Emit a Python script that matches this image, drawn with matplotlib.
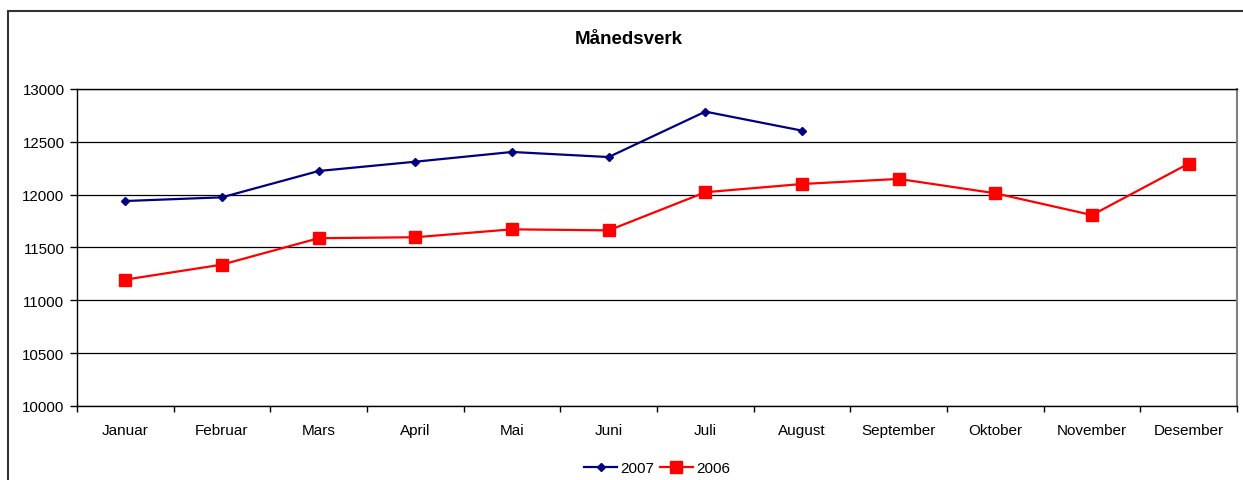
import matplotlib.pyplot as plt
from matplotlib.patches import Rectangle

plt.rcParams['font.family'] = ['Liberation Sans', 'DejaVu Sans']

maaneder = ['Januar', 'Februar', 'Mars', 'April', 'Mai', 'Juni', 'Juli',
            'August', 'September', 'Oktober', 'November', 'Desember']
verk_2007 = [11940, 11975, 12224, 12312, 12404, 12356, 12786, 12606]
verk_2006 = [11196, 11338, 11588, 11597, 11672, 11662, 12023, 12101,
             12149, 12013, 11807, 12294]

fig = plt.figure(figsize=(12.43, 4.81), dpi=100)
ax = fig.add_axes([77 / 1243, 74 / 481, 1160 / 1243, 317 / 481])

# ramme rundt hele diagrammet (Excel-stil)
fig.add_artist(Rectangle((8 / 1243, -0.05), 1.1, (481 - 12) / 481 + 0.05,
                         transform=fig.transFigure, fill=False,
                         edgecolor='#333333', linewidth=1.5))

x07 = list(range(len(verk_2007)))
x06 = list(range(len(verk_2006)))
ax.plot(x07, verk_2007, color='#000080', marker='D', markersize=4.5,
        linewidth=1.6, label='2007', zorder=3)
ax.plot(x06, verk_2006, color='#ff0000', marker='s', markersize=8.5,
        linewidth=1.6, label='2006', zorder=3)

ax.set_xlim(-0.5, 11.5)
ax.set_ylim(10000, 13000)
ax.set_yticks(range(10000, 13001, 500))
ax.yaxis.grid(True, color='black', linewidth=0.9)
ax.set_axisbelow(True)

# kategorier mellom tick-merkene
ax.set_xticks([i - 0.5 for i in range(13)])
ax.set_xticklabels([])
ax.set_xticks(x06, minor=True)
ax.set_xticklabels(maaneder, minor=True)
ax.tick_params(axis='x', which='major', direction='out', length=4, width=1)
ax.tick_params(axis='x', which='minor', length=0, pad=12, labelsize=11)
ax.tick_params(axis='y', direction='out', length=5, width=1, labelsize=10.8, pad=4)

for s in ax.spines.values():
    s.set_linewidth(1)
    s.set_color('black')
ax.spines['right'].set_color('#808080')
ax.spines['right'].set_linewidth(1.5)

fig.text(629 / 1243, 1 - 40 / 481, 'Månedsverk', ha='center', va='center',
         fontsize=13.5, fontweight='bold')

ax.legend(loc='center', bbox_to_anchor=(657 / 1243, 1 - 469 / 481),
          bbox_transform=fig.transFigure, ncol=2, frameon=False,
          fontsize=11, handlelength=2.2, columnspacing=0.35, handletextpad=0.2,
          borderpad=0)

fig.savefig('out.png', dpi=100)
